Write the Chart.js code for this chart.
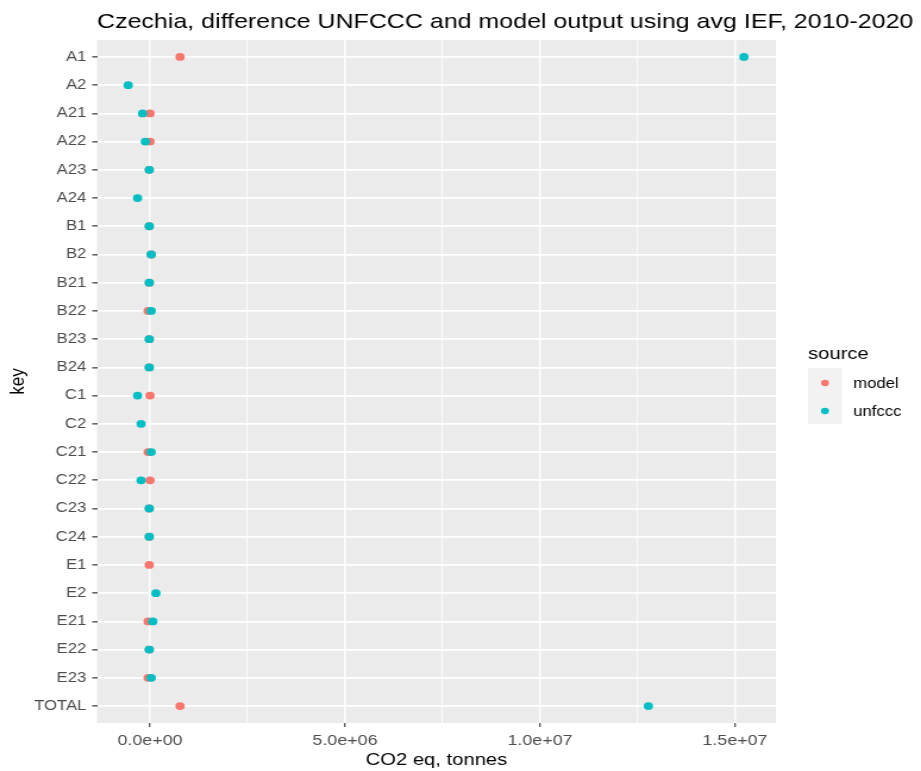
<!DOCTYPE html>
<html>
<head>
<meta charset="utf-8">
<script src="https://cdn.jsdelivr.net/npm/chart.js@4/dist/chart.umd.min.js"></script>
<style>
  html, body { margin: 0; padding: 0; background: #ffffff; overflow: hidden; }
  /* the plot is drawn at 774px wide and stretched to fill the 921px page */
  #wrap { width: 774px; height: 771px; transform: scaleX(1.19); transform-origin: 0 0; }
  #c { display: block; width: 774px; height: 771px; }
</style>
</head>
<body>
<div id="wrap"><canvas id="c" width="774" height="771"></canvas></div>
<script>
// Emission categories, top to bottom
const keys = ['A1','A2','A21','A22','A23','A24','B1','B2','B21','B22','B23','B24',
              'C1','C2','C21','C22','C23','C24','E1','E2','E21','E22','E23','TOTAL'];

// Difference in CO2 eq (tonnes), per source
const modelValues = [770000, null, 0, 0, -20000, null, -20000, 30000, -20000, -50000, -20000, -20000,
                     0, null, -50000, 0, -20000, -20000, -20000, null, -50000, -20000, -50000, 770000];
const unfcccValues = [15230000, -560000, -190000, -120000, -20000, -320000, -20000, 30000, -20000, 30000, -20000, -20000,
                      -320000, -230000, 30000, -230000, -20000, -20000, null, 150000, 70000, -20000, 30000, 12780000];

// x axis: labelled (major) ticks and the unlabelled minor grid between them
const xMajorTicks = [0, 5000000, 10000000, 15000000];
const xTickLabels = ['0.0e+00', '5.0e+06', '1.0e+07', '1.5e+07'];
const xMinorTicks = [2500000, 7500000, 12500000];

const seriesNames = ['model', 'unfccc'];
const seriesColors = ['#F8766D', '#00BFC4'];

const FONT = '"Liberation Sans", Arial, sans-serif';

function toPoints(vals) {
  const pts = [];
  vals.forEach((v, i) => { if (v !== null) pts.push({ x: v, y: i }); });
  return pts;
}

// grey panel behind the grid
const panelBg = {
  id: 'panelBg',
  beforeDraw(chart) {
    const { ctx, chartArea: a } = chart;
    ctx.save();
    ctx.fillStyle = '#EBEBEB';
    ctx.fillRect(a.left, a.top, a.right - a.left, a.bottom - a.top);
    ctx.restore();
  }
};

// plot title and the "source" legend on the right
const decorations = {
  id: 'decorations',
  afterDraw(chart) {
    const { ctx, chartArea: a } = chart;
    ctx.save();
    ctx.fillStyle = '#000000';
    ctx.textBaseline = 'alphabetic';
    ctx.textAlign = 'left';
    ctx.font = '21px ' + FONT;
    ctx.fillText('Czechia, difference UNFCCC and model output using avg IEF, 2010-2020', a.left, 28);

    ctx.font = '17px ' + FONT;
    ctx.fillText('source', a.right + 27, 359);

    const keyX = a.right + 27, keyW = 28.5, keyH = 28, keyTop = 368;
    seriesNames.forEach((name, i) => {
      const y0 = keyTop + i * keyH;
      ctx.fillStyle = '#F2F2F2';
      ctx.fillRect(keyX, y0, keyW, keyH);
      ctx.fillStyle = seriesColors[i];
      ctx.beginPath();
      ctx.arc(keyX + keyW / 2, y0 + keyH / 2 + 1, 3.3, 0, Math.PI * 2);
      ctx.fill();
      ctx.fillStyle = '#000000';
      ctx.font = '14px ' + FONT;
      ctx.textBaseline = 'middle';
      ctx.fillText(name, keyX + 38, y0 + keyH / 2 + 2);
    });
    ctx.restore();
  }
};

new Chart(document.getElementById('c'), {
  type: 'scatter',
  data: {
    datasets: [
      { label: seriesNames[0], data: toPoints(modelValues), backgroundColor: seriesColors[0],
        borderWidth: 0, pointRadius: 3.9, order: 2 },
      { label: seriesNames[1], data: toPoints(unfcccValues), backgroundColor: seriesColors[1],
        borderWidth: 0, pointRadius: 3.9, order: 1 }
    ]
  },
  options: {
    responsive: false,
    animation: false,
    devicePixelRatio: 1,
    events: [],
    layout: { padding: { top: 40, right: 122, left: 0, bottom: 0 } },
    plugins: { legend: { display: false }, tooltip: { enabled: false }, title: { display: false } },
    scales: {
      x: {
        type: 'linear',
        min: -1360000,
        max: 16050000,
        afterBuildTicks(scale) {
          scale.ticks = xMajorTicks.concat(xMinorTicks).sort((p, q) => p - q).map(v => ({ value: v }));
        },
        afterFit(scale) { scale.height = 48; },
        border: { display: false },
        grid: {
          color: '#FFFFFF',
          lineWidth: (c) => (xMajorTicks.includes(c.tick && c.tick.value) ? 1.45 : 0.85),
          tickColor: (c) => (xMajorTicks.includes(c.tick && c.tick.value) ? '#333333' : 'rgba(0,0,0,0)'),
          tickLength: 4,
          tickWidth: 1.1,
          drawTicks: true
        },
        ticks: {
          autoSkip: false,
          maxRotation: 0,
          padding: 5,
          color: '#4D4D4D',
          font: { family: FONT, size: 15 },
          callback: (v) => { const i = xMajorTicks.indexOf(v); return i >= 0 ? xTickLabels[i] : ''; }
        },
        title: {
          display: true,
          text: 'CO2 eq, tonnes',
          color: '#000000',
          font: { family: FONT, size: 17 },
          padding: { top: -2, bottom: 0 }
        }
      },
      y: {
        type: 'linear',
        reverse: true,
        min: -0.6,
        max: keys.length - 1 + 0.6,
        afterBuildTicks(scale) {
          scale.ticks = keys.map((k, i) => ({ value: i }));
        },
        afterFit(scale) { scale.width = 81.5; },
        border: { display: false },
        grid: {
          color: '#FFFFFF',
          lineWidth: 1.7,
          tickColor: '#333333',
          tickLength: 4,
          tickWidth: 1.2,
          drawTicks: true
        },
        ticks: {
          autoSkip: false,
          padding: 5,
          color: '#4D4D4D',
          font: { family: FONT, size: 14 },
          callback: (v) => keys[v]
        },
        title: {
          display: true,
          text: 'key',
          color: '#000000',
          font: { family: FONT, size: 17 },
          padding: { top: 5, bottom: 0 }
        }
      }
    }
  },
  plugins: [panelBg, decorations]
});
</script>
</body>
</html>
